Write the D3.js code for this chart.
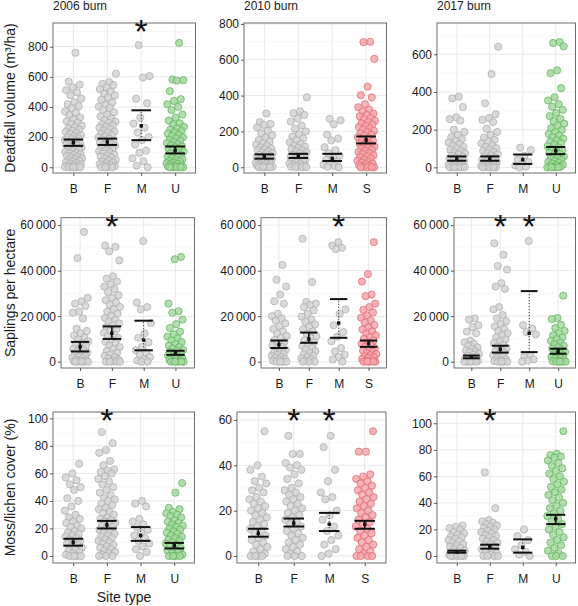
<!DOCTYPE html>
<html><head><meta charset="utf-8">
<script src="https://cdn.jsdelivr.net/npm/d3@7"></script>
<style>body{margin:0;background:#fff}svg{display:block;font-family:"Liberation Sans",Arial,Helvetica,sans-serif}</style>
</head><body><svg id="c" width="578" height="606"></svg>
<script>
// ---------- categories & labels ----------
const sites2006 = ["B","F","M","U"];
const sites2010 = ["B","F","M","S"];
const sites2017 = ["B","F","M","U"];
const burnTitles = ["2006 burn","2010 burn","2017 burn"];
const rowTitles = ["Deadfall volume (m³/ha)","Saplings per hectare","Moss/lichen cover (%)"];
const xTitle = "Site type";

// ---------- Deadfall volume ----------
const deadfall2006_B = [760,568,548,530,512,496,478,455,432,418,405,392,370,362,345,330,318,305,296,288,276,268,259,250,243,236,228,221,214,206,199,193,187,180,174,168,161,155,149,143,137,131,126,120,114,108,103,97,92,86,81,75,70,64,59,53,48,43,38,33,28,24,19,15,11,8,5,2,0,0,0,0];
const deadfall2006_F = [620,565,553,545,530,518,502,488,476,462,448,430,415,402,392,380,365,350,338,325,312,303,295,287,278,270,262,253,245,237,229,221,213,206,198,190,183,176,169,162,155,148,141,134,127,120,113,106,99,92,85,78,71,64,57,50,44,38,32,26,20,15,10,6,3,0,0,0];
const deadfall2006_M = [810,605,595,455,425,330,290,262,230,200,180,150,110,95,60,40,10,0];
const deadfall2006_U = [825,582,578,575,505,452,440,418,400,380,350,330,310,292,280,268,258,250,241,232,224,215,207,199,190,182,175,168,160,153,146,139,132,125,118,111,104,97,90,84,78,72,66,60,54,48,42,37,32,27,22,17,12,8,5,2,0,0,0,0,0];
const deadfall2006_mean = [163,168,275,112];
const deadfall2006_lo = [142,148,180,92];
const deadfall2006_hi = [184,190,378,138];
const deadfall2006_star = ["M"];
const deadfall2006_ticks = [0,200,400,600,800];

const deadfall2010_B = [300,252,242,236,222,205,190,178,165,152,143,135,127,120,112,106,100,95,89,84,79,74,69,64,60,56,52,48,44,40,36,32,28,24,21,18,15,12,9,6,4,2,0,0,0,0];
const deadfall2010_F = [390,312,302,292,272,255,232,215,200,185,172,160,150,140,131,123,115,108,101,95,89,83,77,71,66,61,56,51,46,41,37,33,29,25,21,17,13,9,6,3,0,0,0];
const deadfall2010_M = [270,262,240,182,160,150,112,95,78,65,52,42,32,22,14,8,3,0];
const deadfall2010_S = [700,698,605,450,402,390,352,335,322,310,300,292,284,276,268,260,252,245,238,231,224,217,210,203,196,189,182,175,168,161,154,147,140,133,127,121,115,109,103,97,91,85,79,73,67,61,55,49,43,37,31,26,21,16,11,7,3,0,0,0,0];
const deadfall2010_mean = [60,63,50,152];
const deadfall2010_lo = [48,52,35,133];
const deadfall2010_hi = [72,75,75,172];
const deadfall2010_star = [];
const deadfall2010_ticks = [0,200,400,600,800];

const deadfall2017_B = [375,366,320,265,256,248,200,188,172,160,150,141,132,124,116,108,100,93,86,80,74,68,62,57,52,47,42,37,33,29,25,21,17,13,10,7,4,2,0,0,0,0];
const deadfall2017_F = [640,495,340,282,262,252,240,205,188,172,158,146,136,127,118,110,102,95,88,81,75,69,63,57,51,46,41,36,31,27,23,19,15,11,8,5,2,0,0,0,0];
const deadfall2017_M = [105,92,62,40,28,18,10,4,0];
const deadfall2017_U = [665,660,642,515,500,420,372,355,335,322,305,288,272,258,245,232,220,208,197,187,178,169,160,152,144,136,128,120,112,105,98,91,84,77,70,63,57,51,45,39,34,29,24,19,14,10,6,3,0,0,0,0];
const deadfall2017_mean = [45,45,40,88];
const deadfall2017_lo = [35,35,18,70];
const deadfall2017_hi = [58,58,68,108];
const deadfall2017_star = [];
const deadfall2017_ticks = [0,200,400,600];

// ---------- Saplings per hectare ----------
const saplings2006_B = [57000,45500,28000,26500,25500,24500,22000,21500,19000,14500,13500,12500,11500,10500,9800,9000,8200,7500,6800,6200,5600,5000,4500,4000,3500,3000,2600,2200,1800,1400,1000,700,400,200,0,0,0,0,0];
const saplings2006_F = [51000,50500,48500,44500,37500,36500,35200,34000,33000,31800,30500,29200,28000,27000,26000,25000,24000,23000,22000,21000,20000,19200,18400,17600,16800,16000,15200,14400,13600,12800,12000,11200,10400,9600,8800,8000,7200,6400,5600,4800,4000,3300,2600,2000,1400,900,400,0,0,0,0];
const saplings2006_M = [53000,26000,24000,23000,17000,12500,10500,8500,6500,5000,4000,3000,2000,1000,500,0,0];
const saplings2006_U = [46000,45000,25500,22200,21500,18500,16500,14800,13200,12000,11000,10200,9400,8600,7800,7100,6400,5800,5200,4700,4200,3700,3200,2800,2400,2000,1600,1200,800,500,200,0,0,0,0,0];
const saplings2006_mean = [6500,12500,9500,3800];
const saplings2006_lo = [4500,10000,5000,3000];
const saplings2006_hi = [8700,15500,18000,4800];
const saplings2006_star = ["F"];
const saplings_ticks = [0,20000,40000,60000];

const saplings2010_B = [42500,36000,33000,29500,26500,25500,21000,20000,19000,18000,16800,15600,14400,13300,12300,11300,10400,9500,8700,7900,7200,6500,5800,5200,4600,4000,3500,3000,2500,2000,1600,1200,800,400,0,0,0,0];
const saplings2010_F = [54000,35000,26200,25500,25000,24000,22500,21000,19800,18600,17500,16400,15300,14200,13200,12200,11200,10300,9400,8500,7700,6900,6100,5400,4700,4000,3300,2700,2100,1500,1000,500,0,0,0];
const saplings2010_M = [52500,51000,50000,49500,23000,21000,16000,13000,11000,9000,6000,4500,3000,2000,1000,0];
const saplings2010_S = [52500,38500,35200,29500,28800,25500,24000,22800,21600,20400,19300,18200,17100,16100,15100,14200,13300,12400,11600,10800,10000,9300,8600,7900,7200,6600,6000,5400,4800,4300,3800,3300,2800,2400,2000,1600,1200,800,400,0,0,0,0,0];
const saplings2010_mean = [7500,10000,17000,8000];
const saplings2010_lo = [6000,8300,10500,6500];
const saplings2010_hi = [9300,12800,27500,9300];
const saplings2010_star = ["M"];

const saplings2017_B = [19000,18500,16000,15200,13200,12500,9200,8500,7800,7000,6300,5600,5000,4500,4000,3500,3000,2600,2200,1800,1400,1000,700,400,200,0,0,0,0];
const saplings2017_F = [52000,47000,42000,40500,34500,33000,32000,24000,23000,20500,19000,17800,16600,15500,14500,13500,12500,11600,10700,9800,9000,8200,7400,6700,6000,5300,4600,4000,3400,2800,2200,1600,1100,600,200,0,0,0,0];
const saplings2017_M = [53000,16000,14500,13000,12000,3000,2000,1000,500,0];
const saplings2017_U = [29000,19200,18700,16200,14800,13500,12500,11600,10700,9900,9100,8400,7700,7000,6400,5800,5200,4700,4200,3700,3200,2800,2400,2000,1600,1200,800,500,200,0,0,0,0];
const saplings2017_mean = [2000,5500,12500,4500];
const saplings2017_lo = [1500,4000,4200,3500];
const saplings2017_hi = [2700,7000,31000,5700];
const saplings2017_star = ["F","M"];

// ---------- Moss/lichen cover ----------
const moss2006_B = [67,60,57,55,52,50,48,42,40,36,33,30,28,27,25,24,22,21,20,18,17,16,15,14,13,12,11,10,9,8,7,6,5,4,3,2,1,0,0,0,0];
const moss2006_F = [90,82,77,75,69,66,63,62,61,60,58,56,54,52,50,48,46,44,42,41,40,38,37,35,34,32,31,30,28,27,26,25,24,23,22,21,20,19,18,17,16,15,14,13,12,11,10,9,8,7,6,5,4,3,2,1,0,0,0];
const moss2006_M = [40,38,36,27,25,23,21,19,17,15,13,11,9,7,5,3,0];
const moss2006_U = [53,46,35,34,32,31,30,29,28,26,25,24,23,22,21,20,19,18,17,16,15,14,13,12,11,10,9,8,7,6,5,4,3,2,1,0,0,0,0];
const moss2006_mean = [10,22.5,15,7.5];
const moss2006_lo = [7.5,20,11,5.5];
const moss2006_hi = [12.5,25.5,21,9.5];
const moss2006_star = ["F"];
const moss2006_ticks = [0,20,40,60,80,100];

const moss2010_B = [55,40,38,35,33,32,30,29,28,26,25,24,23,22,21,20,19,18,17,16,15,14,13,12,11,10,9,8,7,6,5,4,3,2,1,0,0,0,0];
const moss2010_F = [53,45,45,41,40,39,38,36,34,32,30,29,28,27,26,25,24,23,22,21,20,19,18,17,16,15,14,13,12,11,10,9,8,7,6,5,4,3,2,1,0,0,0];
const moss2010_M = [53,48,38,33,28,26,25,20,18,16,13,11,9,7,5,3,1,0];
const moss2010_S = [55,46,46,36,35,34,33,32,31,30,29,28,27,26,25,24,23,22,21,20,19,18,17,16,15,14,13,12,11,10,9,8,7,6,5,4,3,2,1,0,0,0,0];
const moss2010_mean = [10,14.5,14,14];
const moss2010_lo = [8.5,13,11,12];
const moss2010_hi = [12,16.5,19,15.5];
const moss2010_star = ["F","M"];
const moss2010_ticks = [0,20,40,60];

const moss2017_B = [23,22,21,20,18,17,16,15,14,13,12,11,10,9,8,7,6,5,4,3,3,2,2,1,1,0,0,0,0,0];
const moss2017_F = [63,36,27,26,25,24,23,22,21,20,19,18,17,16,15,14,13,12,11,10,9,8,7,6,5,4,3,2,1,0,0,0,0];
const moss2017_M = [20,15,12,8,5,3,1,0];
const moss2017_U = [94,77,76,75,74,72,70,68,66,64,62,60,58,56,54,52,50,48,46,44,42,40,38,36,34,32,30,28,26,24,22,20,18,16,14,12,10,8,6,4,2,0,0,0];
const moss2017_mean = [3,7,6.5,28];
const moss2017_lo = [2.5,5.5,2.5,24];
const moss2017_hi = [4,8.5,12.5,31];
const moss2017_star = ["F"];
const moss2017_ticks = [0,20,40,60,80,100];

// ---------- layout ----------
const rowTop = [23, 217.7, 412], rowBot = [173, 368, 563];
const panels = [
  {r:0,c:0,cats:sites2006,g:[deadfall2006_B,deadfall2006_F,deadfall2006_M,deadfall2006_U],mean:deadfall2006_mean,lo:deadfall2006_lo,hi:deadfall2006_hi,star:deadfall2006_star,ticks:deadfall2006_ticks,x:[53,195.5],dom:[-38,957]},
  {r:0,c:1,cats:sites2010,g:[deadfall2010_B,deadfall2010_F,deadfall2010_M,deadfall2010_S],mean:deadfall2010_mean,lo:deadfall2010_lo,hi:deadfall2010_hi,star:deadfall2010_star,ticks:deadfall2010_ticks,x:[244,386.5],dom:[-32,805]},
  {r:0,c:2,cats:sites2017,g:[deadfall2017_B,deadfall2017_F,deadfall2017_M,deadfall2017_U],mean:deadfall2017_mean,lo:deadfall2017_lo,hi:deadfall2017_hi,star:deadfall2017_star,ticks:deadfall2017_ticks,x:[437,575.5],dom:[-30,766]},
  {r:1,c:0,cats:sites2006,g:[saplings2006_B,saplings2006_F,saplings2006_M,saplings2006_U],mean:saplings2006_mean,lo:saplings2006_lo,hi:saplings2006_hi,star:saplings2006_star,ticks:saplings_ticks,x:[61,194.5],dom:[-2770,63250]},
  {r:1,c:1,cats:sites2010,g:[saplings2010_B,saplings2010_F,saplings2010_M,saplings2010_S],mean:saplings2010_mean,lo:saplings2010_lo,hi:saplings2010_hi,star:saplings2010_star,ticks:saplings_ticks,x:[261,386.5],dom:[-2770,63250]},
  {r:1,c:2,cats:sites2017,g:[saplings2017_B,saplings2017_F,saplings2017_M,saplings2017_U],mean:saplings2017_mean,lo:saplings2017_lo,hi:saplings2017_hi,star:saplings2017_star,ticks:saplings_ticks,x:[454,575.5],dom:[-2770,63250]},
  {r:2,c:0,cats:sites2006,g:[moss2006_B,moss2006_F,moss2006_M,moss2006_U],mean:moss2006_mean,lo:moss2006_lo,hi:moss2006_hi,star:moss2006_star,ticks:moss2006_ticks,x:[53,194.5],dom:[-5.1,104.6]},
  {r:2,c:1,cats:sites2010,g:[moss2010_B,moss2010_F,moss2010_M,moss2010_S],mean:moss2010_mean,lo:moss2010_lo,hi:moss2010_hi,star:moss2010_star,ticks:moss2010_ticks,x:[237,386],dom:[-3.1,63.5]},
  {r:2,c:2,cats:sites2017,g:[moss2017_B,moss2017_F,moss2017_M,moss2017_U],mean:moss2017_mean,lo:moss2017_lo,hi:moss2017_hi,star:moss2017_star,ticks:moss2017_ticks,x:[437,575.5],dom:[-5.3,108.5]}
];

const fillOf = c => c==="U" ? "#a3d89e" : c==="S" ? "#f3a7aa" : "#d3d3d3";
const strokeOf = c => c==="U" ? "#5fb35c" : c==="S" ? "#e2666f" : "#ababab";
const fmt = v => d3.format(",")(v).replace(/,/g,"\u2009");
const FONT = "'Liberation Sans',Arial,sans-serif";

const svg = d3.select("#c");

panels.forEach(p => {
  const top = rowTop[p.r], bot = rowBot[p.r];
  const xs = d3.scalePoint().domain(p.cats).range(p.x).padding(0.6);
  const ys = d3.scaleLinear().domain(p.dom).range([bot, top]);
  const step = xs.step();
  const g = svg.append("g");

  // grid
  const minor = d3.pairs(p.ticks).map(([a,b]) => (a+b)/2);
  const tstep = p.ticks[1]-p.ticks[0];
  const extra = p.ticks[p.ticks.length-1] + tstep/2;
  if (extra < p.dom[1]) minor.push(extra);
  g.selectAll(".mn").data(minor).join("line")
    .attr("x1",p.x[0]).attr("x2",p.x[1]).attr("y1",d=>ys(d)).attr("y2",d=>ys(d))
    .attr("stroke","#f2f2f2").attr("stroke-width",0.6);
  g.selectAll(".mj").data(p.ticks).join("line")
    .attr("x1",p.x[0]).attr("x2",p.x[1]).attr("y1",d=>ys(d)).attr("y2",d=>ys(d))
    .attr("stroke","#e3e3e3").attr("stroke-width",0.8);
  g.selectAll(".vg").data(p.cats).join("line")
    .attr("x1",d=>xs(d)).attr("x2",d=>xs(d)).attr("y1",top).attr("y2",bot)
    .attr("stroke","#e3e3e3").attr("stroke-width",0.8);

  // points (jittered horizontally with a fixed, deterministic offset sequence)
  p.cats.forEach((cat, ci) => {
    const vals = p.g[ci];
    const half = step*0.26;
    g.append("g").selectAll("circle").data(vals).join("circle")
      .attr("cx",(d,i)=> xs(cat) + ((((i+1)*0.6180339887 + ci*0.37 + p.r*0.11) % 1) - 0.5)*2*half)
      .attr("cy",d=>ys(d))
      .attr("r",3.6)
      .attr("fill",fillOf(cat)).attr("fill-opacity",0.85)
      .attr("stroke",strokeOf(cat)).attr("stroke-width",0.8).attr("stroke-opacity",0.9);
  });

  // error bars
  p.cats.forEach((cat, ci) => {
    const cx = xs(cat), w = step*0.29;
    const dotted = cat==="M";
    g.append("line").attr("x1",cx).attr("x2",cx).attr("y1",ys(p.lo[ci])).attr("y2",ys(p.hi[ci]))
      .attr("stroke","#111").attr("stroke-width",dotted?1:1.6)
      .attr("stroke-dasharray",dotted?"1,2":null);
    [p.lo[ci],p.hi[ci]].forEach(v=>{
      g.append("line").attr("x1",cx-w).attr("x2",cx+w).attr("y1",ys(v)).attr("y2",ys(v))
        .attr("stroke","#111").attr("stroke-width",2);
    });
    g.append("rect").attr("x",cx-1.7).attr("y",ys(p.mean[ci])-1.7).attr("width",3.4).attr("height",3.4).attr("fill","#111");
  });

  // border
  g.append("rect").attr("x",p.x[0]).attr("y",top).attr("width",p.x[1]-p.x[0]).attr("height",bot-top)
    .attr("fill","none").attr("stroke","#6e6e6e").attr("stroke-width",1);

  // y axis
  const ya = g.append("g").attr("transform",`translate(${p.x[0]},0)`)
    .call(d3.axisLeft(ys).tickValues(p.ticks).tickSize(3).tickPadding(2).tickFormat(fmt));
  ya.select(".domain").remove();
  ya.selectAll("line").attr("stroke","#555");
  ya.selectAll("text").attr("font-size",12).attr("fill","#1a1a1a").attr("font-family",FONT);

  // x axis
  const xa = g.append("g").attr("transform",`translate(0,${bot})`)
    .call(d3.axisBottom(xs).tickSize(3).tickPadding(8));
  xa.select(".domain").remove();
  xa.selectAll("line").attr("stroke","#555");
  xa.selectAll("text").attr("font-size",12).attr("fill","#1a1a1a").attr("font-family",FONT);

  // significance stars
  g.selectAll(".star").data(p.star).join("text")
    .attr("x",d=>xs(d)).attr("y",top+20).attr("text-anchor","middle")
    .attr("font-size",34).attr("fill","#111").text("*");

  if (p.r===0) svg.append("text").attr("x",p.x[0]).attr("y",10).attr("font-size",12).attr("fill","#1a1a1a").text(burnTitles[p.c]);
  if (p.c===0) svg.append("text").attr("transform",`translate(15,${(top+bot)/2}) rotate(-90)`)
    .attr("text-anchor","middle").attr("font-size",14).attr("fill","#1a1a1a").text(rowTitles[p.r]);
});

svg.append("text").attr("x",124).attr("y",602).attr("text-anchor","middle").attr("font-size",14).attr("fill","#1a1a1a").text(xTitle);
</script></body></html>
